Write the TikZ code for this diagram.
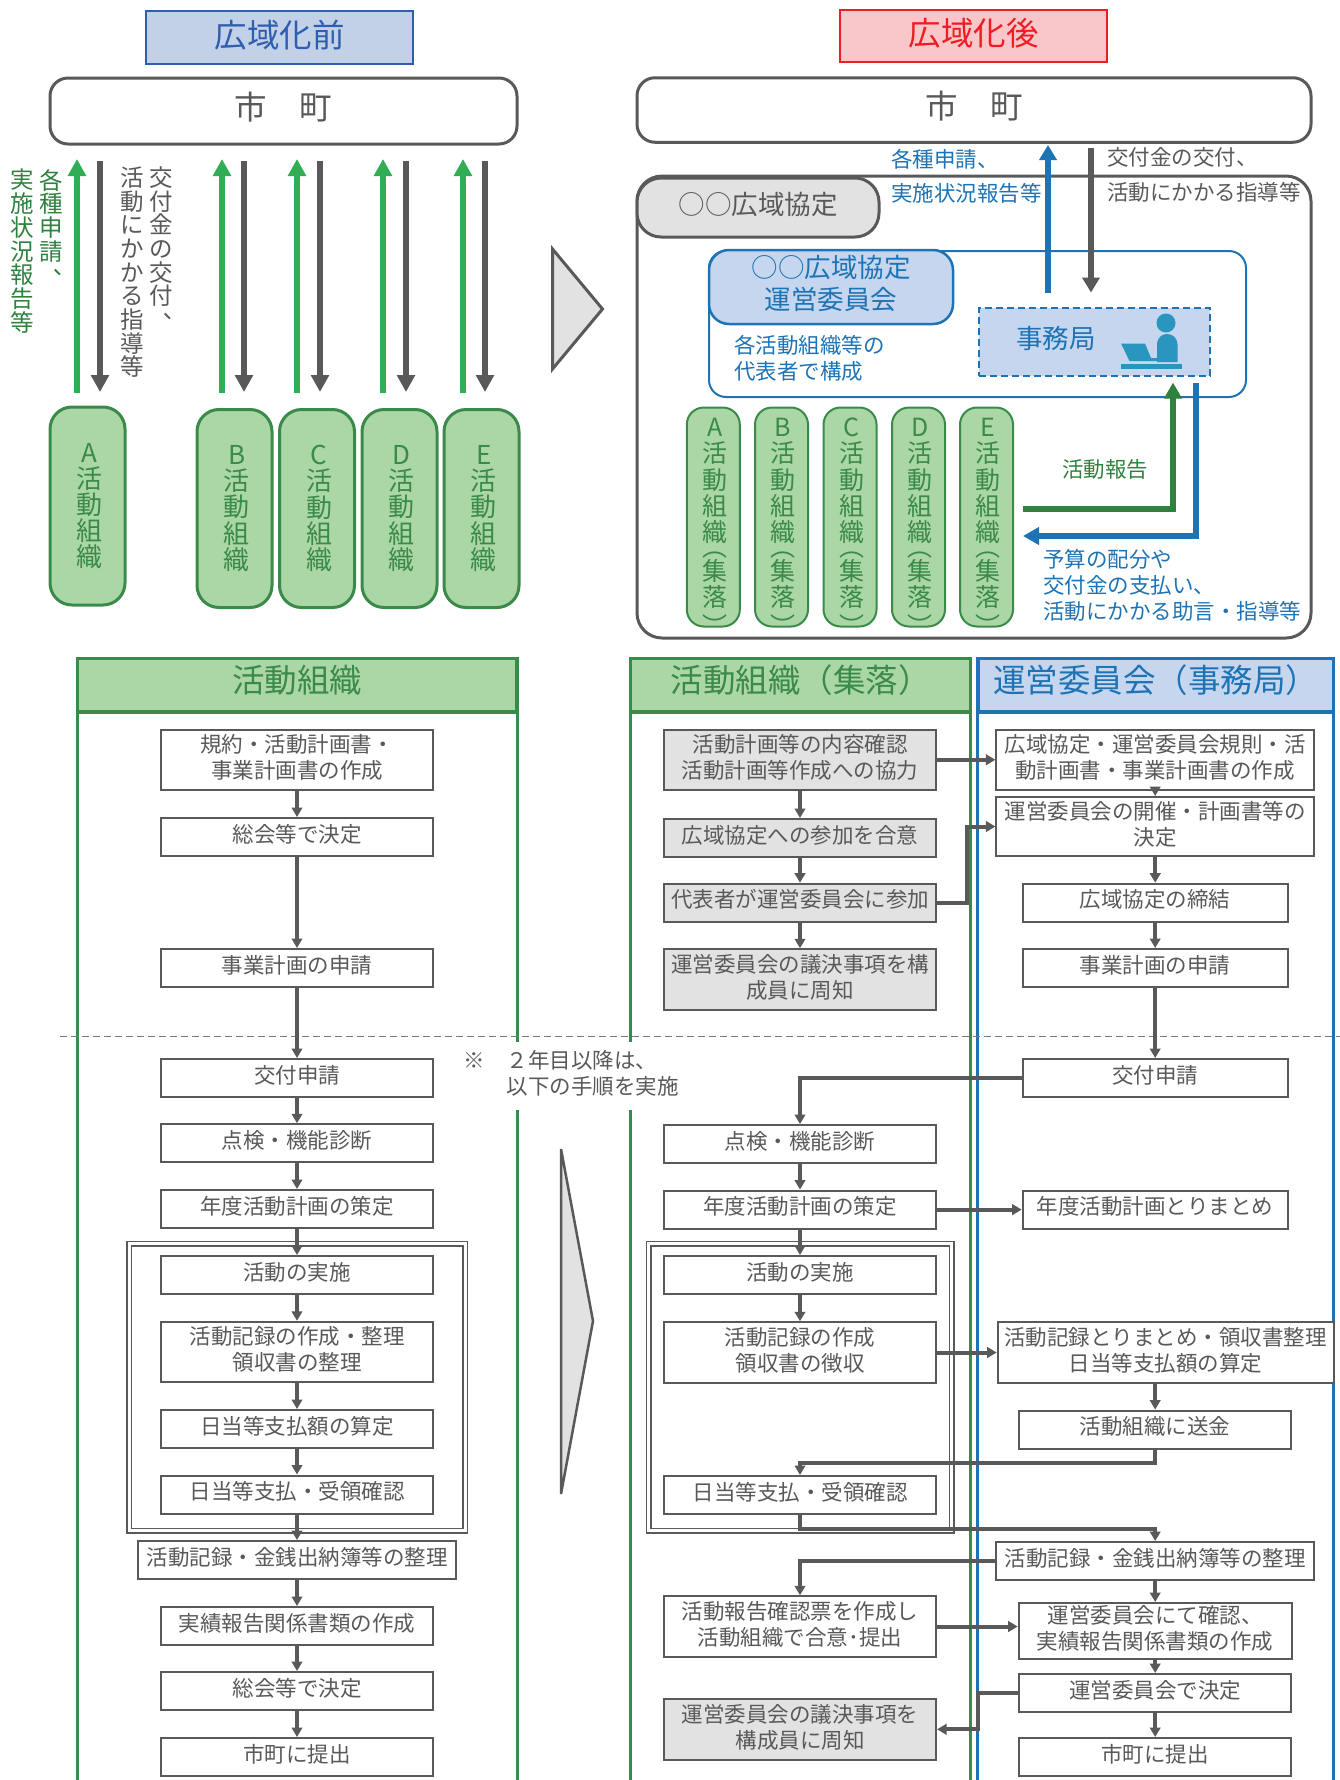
\documentclass[tikz,border=0pt]{standalone}
\usepackage{fontspec}
\setmainfont{Noto Sans CJK JP}
\usetikzlibrary{arrows.meta, shapes}
\definecolor{txtgray}{HTML}{595959}
\definecolor{linegray}{HTML}{595959}
\definecolor{fillgray}{HTML}{E2E2E2}
\definecolor{lanegreen}{HTML}{3A8A4A}
\definecolor{fillgreen}{HTML}{ABD6A6}
\definecolor{arrowgreen}{HTML}{30AD55}
\definecolor{darkgreen}{HTML}{2F8140}
\definecolor{laneblue}{HTML}{1E73B4}
\definecolor{fillblue}{HTML}{C5D6EE}
\definecolor{headblue}{HTML}{C3D1E8}
\definecolor{headred}{HTML}{F9C7CA}
\definecolor{edgeblue}{HTML}{2E5FAF}
\definecolor{edgered}{HTML}{F01C24}
\definecolor{iconteal}{HTML}{2A95BF}
\newcommand{\bodyfont}{\fontsize{21.5pt}{26pt}\selectfont}
\newcommand{\headfont}{\fontsize{32.5pt}{36pt}\selectfont}
\newcommand{\midfont}{\fontsize{26.5pt}{32pt}\selectfont}
\newcommand{\tatecomma}{\rotatebox[origin=c]{180}{、}}
\newcommand{\tateopen}{\raisebox{0pt}[8pt][4pt]{\rotatebox[origin=c]{-90}{（}}}
\newcommand{\tateclose}{\raisebox{0pt}[8pt][4pt]{\rotatebox[origin=c]{-90}{）}}}
\newcommand{\bigstack}[1]{\hskip4.4pt\vbox{\hsize=30pt\centering #1\\活\\動\\組\\織\par}}
\newcommand{\smallstack}[1]{\hskip3pt\raisebox{-118.9pt}[0pt][0pt]{\vbox{\hsize=30pt\centering #1\\活\\動\\組\\織\\[-12pt]\tateopen\\[-2pt]集\\落\\[3pt]\tateclose\par}}}
\tikzstyle{arrow} = [line width=4pt, color=linegray, -{Triangle[length=9.5pt,width=10.5pt]}]
\tikzstyle{bigarrow} = [line width=6pt, -{Triangle[length=17pt,width=17.5pt]}]
\tikzstyle{block} = [draw=linegray, rectangle, line width=2pt, fill=white, text=txtgray, font=\bodyfont, minimum width=272pt, minimum height=38pt, inner sep=0pt, align=center, text height=18pt, text depth=7.6pt]
\tikzstyle{tall} = [block, minimum height=60.5pt, text height=44.4pt, text depth=7pt]
\tikzstyle{greyblock} = [fill=fillgray]
\tikzstyle{doublebox} = [draw=linegray, double, double distance=3pt, line width=1.5pt, rectangle, inner sep=0pt]
\tikzstyle{head} = [rectangle, line width=3.5pt, outer sep=0pt, font=\headfont, inner sep=0pt, text height=26pt, text depth=11.2pt]
\tikzstyle{toplabel} = [head, line width=2pt, text height=26pt, text depth=6.6pt]
\tikzstyle{shicho} = [draw=linegray, rectangle, rounded corners=18pt, line width=3pt, fill=white, text=txtgray, font=\headfont, inner sep=0pt, text height=27pt, text depth=10.6pt]
\tikzstyle{bigorg} = [draw=lanegreen, rectangle, rounded corners=22pt, line width=3pt, fill=fillgreen, text=lanegreen, minimum width=75pt, minimum height=198pt, inner sep=0pt, font={\fontsize{26pt}{26.2pt}\selectfont\lineskiplimit=-20pt}]
\tikzstyle{smallorg} = [draw=lanegreen, rectangle, rounded corners=17pt, line width=2pt, fill=fillgreen, text=lanegreen, minimum width=53pt, minimum height=219pt, inner sep=0pt, font={\fontsize{25pt}{26.3pt}\selectfont\lineskiplimit=-20pt}]
\tikzstyle{tatelabel} = [inner sep=0pt, align=center, anchor=north, font={\fontsize{23.5pt}{23.7pt}\selectfont\lineskiplimit=-20pt}]
\tikzstyle{label} = [inner sep=0pt, font=\bodyfont, anchor=west, align=left, yshift=1pt]
\tikzstyle{lane} = [line width=3pt]
\begin{document}
\begin{tikzpicture}[x=1pt, y=-1pt]
    \useasboundingbox (0,0) rectangle (1340,1780);
    \coordinate (pageFoot) at (0,1780);

    % upper left
    \node [toplabel, draw=edgeblue, fill=headblue, text=edgeblue, minimum width=267pt, minimum height=53pt] (headBefore) at (279.5,37.5) {広域化前};
    \node [shicho, minimum width=467pt, minimum height=66pt] (shichoBefore) at (283.5,111) {市　町};
    \node [bigorg] (orgA) at (87.5,506) {\bigstack{A}};
    \node [bigorg] (orgB) at (234.5,508.5) {\bigstack{B}};
    \node [bigorg] (orgC) at (317,508.5) {\bigstack{C}};
    \node [bigorg] (orgD) at (399.5,508.5) {\bigstack{D}};
    \node [bigorg] (orgE) at (481.5,508.5) {\bigstack{E}};
    \node [tatelabel, text=darkgreen] (labelApply) at (51,169) {各\\種\\申\\請\\[-9pt]\tatecomma};
    \node [tatelabel, text=darkgreen] (labelReport) at (22,169) {実\\施\\状\\況\\報\\告\\等};
    \node [tatelabel, text=txtgray] (labelGrant) at (161,166.5) {交\\付\\金\\の\\交\\付\\[-10pt]\tatecomma};
    \node [tatelabel, text=txtgray] (labelGuide) at (132.5,166.5) {活\\動\\に\\か\\か\\る\\指\\導\\等};

    \coordinate (upAb) at (77,393); \coordinate (upAt) at (77,159);
    \coordinate (upBb) at (222,393); \coordinate (upBt) at (222,159);
    \coordinate (upCb) at (297,393); \coordinate (upCt) at (297,159);
    \coordinate (upDb) at (383,393); \coordinate (upDt) at (383,159);
    \coordinate (upEb) at (463,393); \coordinate (upEt) at (463,159);
    \coordinate (dnAt) at (100,161); \coordinate (dnAb) at (100,392);
    \coordinate (dnBt) at (244,161); \coordinate (dnBb) at (244,392);
    \coordinate (dnCt) at (320,161); \coordinate (dnCb) at (320,392);
    \coordinate (dnDt) at (406,161); \coordinate (dnDb) at (406,392);
    \coordinate (dnEt) at (485,161); \coordinate (dnEb) at (485,392);
    \draw [bigarrow, arrowgreen] (upAb) -- (upAt);
    \draw [bigarrow, arrowgreen] (upBb) -- (upBt);
    \draw [bigarrow, arrowgreen] (upCb) -- (upCt);
    \draw [bigarrow, arrowgreen] (upDb) -- (upDt);
    \draw [bigarrow, arrowgreen] (upEb) -- (upEt);
    \draw [bigarrow, linegray] (dnAt) -- (dnAb);
    \draw [bigarrow, linegray] (dnBt) -- (dnBb);
    \draw [bigarrow, linegray] (dnCt) -- (dnCb);
    \draw [bigarrow, linegray] (dnDt) -- (dnDb);
    \draw [bigarrow, linegray] (dnEt) -- (dnEb);
    \draw [draw=linegray, line width=3pt, fill=fillgray] (552.5,249) -- (602.5,309) -- (552.5,369) -- cycle;

    % upper right
    \node [toplabel, draw=edgered, fill=headred, text=edgered, minimum width=267pt, minimum height=52pt] (headAfter) at (973.5,36) {広域化後};
    \node [shicho, minimum width=674pt, minimum height=64.5pt] (shichoAfter) at (974,110) {市　町};
    \node [draw=linegray, rectangle, rounded corners=25pt, line width=3pt, minimum width=674pt, minimum height=462pt, inner sep=0pt] (kyotei) at (974,407) {};
    \node [draw=linegray, rectangle, rounded corners=24pt, line width=3pt, fill=fillgray, text=txtgray, font=\midfont, minimum width=242pt, minimum height=59pt, inner sep=0pt, text height=22pt, text depth=9pt] (kyoteiTab) at (758,207.5) {○○広域協定};
    \node [draw=laneblue, rectangle, rounded corners=17pt, line width=2pt, minimum width=537pt, minimum height=146pt, inner sep=0pt] (iinkaiFrame) at (977.5,324) {};
    \node [draw=laneblue, rectangle, rounded corners=20pt, line width=2.5pt, fill=fillblue, text=laneblue, font=\midfont, minimum width=244pt, minimum height=74pt, inner sep=0pt, align=center, text height=50pt, text depth=6pt] (iinkai) at (831,287) {○○広域協定\\運営委員会};
    \node [draw=laneblue, dash pattern=on 7pt off 4pt, rectangle, line width=2pt, fill=fillblue, minimum width=231pt, minimum height=68pt, inner sep=0pt] (jimu) at (1094.5,342) {};
    \node [inner sep=0pt, text=laneblue, font=\midfont] (jimuText) at (1056,338) {事務局};
    \node [smallorg] (sOrgA) at (713.3,517) {\smallstack{A}};
    \node [smallorg] (sOrgB) at (781.5,517) {\smallstack{B}};
    \node [smallorg] (sOrgC) at (850,517) {\smallstack{C}};
    \node [smallorg] (sOrgD) at (918.5,517) {\smallstack{D}};
    \node [smallorg] (sOrgE) at (986.5,517) {\smallstack{E}};
    \node [label, text=laneblue] (lbApply) at (891,160) {各種申請、};
    \node [label, text=laneblue] (lbStatus) at (891,194) {実施状況報告等};
    \node [label, text=txtgray] (lbGrant) at (1107,158) {交付金の交付、};
    \node [label, text=txtgray] (lbGuide) at (1107,193) {活動にかかる指導等};
    \node [label, text=laneblue] (lbMember) at (734,346) {各活動組織等の};
    \node [label, text=laneblue] (lbRep) at (734,372) {代表者で構成};
    \node [label, text=darkgreen] (lbActivity) at (1062,470) {活動報告};
    \node [label, text=laneblue] (lbBudget) at (1043,560) {予算の配分や};
    \node [label, text=laneblue] (lbPay) at (1043,586) {交付金の支払い、};
    \node [label, text=laneblue] (lbAdvice) at (1043,612) {活動にかかる助言・指導等};

    % desk worker
    \fill [iconteal] (1166,323) circle (9.5);
    \fill [iconteal] (1157,362) -- (1157,344) .. controls (1158,336) and (1163,334) .. (1167,334) .. controls (1173,334) and (1177,338) .. (1177.5,344) -- (1177.5,362) -- cycle;
    \fill [iconteal] (1121,343.5) -- (1145,343.5) -- (1151,358) -- (1162,358) -- (1162,361) -- (1129.5,361) -- cycle;
    \fill [iconteal] (1121,364) rectangle (1182,369);

    \coordinate (upJimu) at (1048,292.5); \coordinate (upShicho) at (1048,145);
    \coordinate (dnShicho) at (1091,148); \coordinate (dnJimu) at (1091,292.5);
    \coordinate (repStart) at (1023,509); \coordinate (repEnd) at (1173,382.5);
    \coordinate (payStart) at (1196,382.5); \coordinate (payEnd) at (1023,536);
    \draw [bigarrow, laneblue, -{Triangle[length=15pt,width=17pt]}] (upJimu) -- (upShicho);
    \draw [bigarrow, linegray, -{Triangle[length=15pt,width=17pt]}] (dnShicho) -- (dnJimu);
    \draw [bigarrow, darkgreen, -{Triangle[length=16pt,width=17pt]}] (repStart) -| (repEnd);
    \draw [bigarrow, laneblue, -{Triangle[length=16pt,width=17pt]}] (payStart) |- (payEnd);

    % lanes
    \node [head, draw=lanegreen, fill=fillgreen, text=lanegreen, minimum width=439.5pt, minimum height=53.5pt] (laneLeft) at (297.3,685) {活動組織};
    \node [head, draw=lanegreen, fill=fillgreen, text=lanegreen, minimum width=340pt, minimum height=53.5pt] (laneMid) at (800.5,685) {活動組織（集落）};
    \node [head, draw=laneblue, fill=fillblue, text=laneblue, minimum width=355.5pt, minimum height=53.5pt] (laneRight) at (1155.5,685) {運営委員会（事務局）};
    \draw [lane, lanegreen] (laneLeft.south west) -- (laneLeft.south west |- pageFoot);
    \draw [lane, lanegreen] (laneLeft.south east) -- (laneLeft.south east |- pageFoot);
    \draw [lane, lanegreen] (laneMid.south west) -- (laneMid.south west |- pageFoot);
    \draw [lane, lanegreen] (laneMid.south east) -- (laneMid.south east |- pageFoot);
    \draw [lane, laneblue] (laneRight.south west) -- (laneRight.south west |- pageFoot);
    \draw [lane, laneblue] (laneRight.south east) -- (laneRight.south east |- pageFoot);
    \coordinate (yearLineL) at (60,1036); \coordinate (yearLineR) at (1340,1036);
    \draw [linegray!80, line width=1pt, dash pattern=on 7pt off 4pt] (yearLineL) -- (yearLineR);
    \node [fill=white, inner sep=0pt, minimum width=218pt, minimum height=68pt, align=left, text=txtgray, font=\bodyfont, anchor=north west, text height=44.4pt, text depth=7pt] (noteYear) at (462,1042) {※　２年目以降は、\\　　以下の手順を実施};
    \draw [draw=linegray, line width=2.5pt, fill=fillgray] (561,1149) -- (593,1321) -- (561,1494) -- cycle;
    \node [doublebox, minimum width=336pt, minimum height=287pt] (loopLeft) at (297,1387) {};
    \node [doublebox, minimum width=303pt, minimum height=287pt] (loopMid) at (800,1387) {};

    % left lane
    \node [tall] (kiyakuL) at (297,759.75) {規約・活動計画書・\\事業計画書の作成};
    \node [block, below of=kiyakuL, node distance=77.25pt] (soukaiL) {総会等で決定};
    \node [block, below of=soukaiL, node distance=131pt] (jigyoL) {事業計画の申請};
    \node [block, below of=jigyoL, node distance=110pt] (kofuL) {交付申請};
    \node [block, below of=kofuL, node distance=65.25pt] (tenkenL) {点検・機能診断};
    \node [block, below of=tenkenL, node distance=65.75pt] (nendoL) {年度活動計画の策定};
    \node [block, below of=nendoL, node distance=66pt] (jisshiL) {活動の実施};
    \node [tall, below of=jisshiL, node distance=77pt] (kirokuL) {活動記録の作成・整理\\領収書の整理};
    \node [block, below of=kirokuL, node distance=77pt] (santeiL) {日当等支払額の算定};
    \node [block, below of=santeiL, node distance=65.5pt] (kakuninL) {日当等支払・受領確認};
    \node [block, below of=kakuninL, node distance=65.5pt, minimum width=318pt] (seiriL) {活動記録・金銭出納簿等の整理};
    \node [block, below of=seiriL, node distance=66pt] (jissekiL) {実績報告関係書類の作成};
    \node [block, below of=jissekiL, node distance=65pt] (soukai2L) {総会等で決定};
    \node [block, below of=soukai2L, node distance=66pt] (teishutsuL) {市町に提出};

    % middle lane
    \node [tall, greyblock] (keikakuM) at (800,759.75) {活動計画等の内容確認\\活動計画等作成への協力};
    \node [block, greyblock, below of=keikakuM, node distance=78.25pt] (sankaM) {広域協定への参加を合意};
    \node [block, greyblock, below of=sankaM, node distance=64.7pt] (daihyoM) {代表者が運営委員会に参加};
    \node [tall, greyblock, below of=daihyoM, node distance=76.8pt] (shuchiM) {運営委員会の議決事項を構\\成員に周知};
    \node [block, below of=shuchiM, node distance=164.5pt] (tenkenM) {点検・機能診断};
    \node [block, below of=tenkenM, node distance=65.6pt] (nendoM) {年度活動計画の策定};
    \node [block, below of=nendoM, node distance=65.4pt] (jisshiM) {活動の実施};
    \node [tall, below of=jisshiM, node distance=77.5pt] (kirokuM) {活動記録の作成\\領収書の徴収};
    \node [block, below of=kirokuM, node distance=142.5pt] (kakuninM) {日当等支払・受領確認};
    \node [tall, below of=kakuninM, node distance=131.5pt] (hokokuM) {活動報告確認票を作成し\\活動組織で合意･提出};
    \node [tall, greyblock, below of=hokokuM, node distance=102.8pt] (shuchi2M) {運営委員会の議決事項を\\構成員に周知};

    % right lane
    \node [tall, right of=keikakuM, node distance=355.2pt, minimum width=317.5pt] (kisokuR) {広域協定・運営委員会規則・活\\動計画書・事業計画書の作成};
    \node [tall, below of=kisokuR, node distance=66.75pt, minimum width=317.5pt, minimum height=59pt] (kaisaiR) {運営委員会の開催・計画書等の\\決定};
    \node [block, below of=kaisaiR, node distance=76.2pt, minimum width=265pt] (teiketsuR) {広域協定の締結};
    \node [block, below of=teiketsuR, node distance=65.3pt, minimum width=265pt] (jigyoR) {事業計画の申請};
    \node [block, below of=jigyoR, node distance=110pt, minimum width=265pt] (kofuR) {交付申請};
    \node [block, below of=kofuR, node distance=131.6pt, minimum width=265pt] (matomeR) {年度活動計画とりまとめ};
    \node [tall, minimum width=336pt] (torimatomeR) at (1165.7,1352.5) {活動記録とりまとめ・領収書整理\\日当等支払額の算定};
    \node [block, below of=matomeR, node distance=220pt] (sokinR) {活動組織に送金};
    \node [block, below of=sokinR, node distance=131.4pt, minimum width=317.5pt] (seiriR) {活動記録・金銭出納簿等の整理};
    \node [tall, below of=seiriR, node distance=70pt, minimum height=56pt, minimum width=273pt] (kakuninR) {運営委員会にて確認、\\実績報告関係書類の作成};
    \node [block, below of=kakuninR, node distance=62pt] (ketteiR) {運営委員会で決定};
    \node [block, below of=ketteiR, node distance=64pt] (teishutsuR) {市町に提出};

    \path [arrow] (kiyakuL) edge (soukaiL);
    \path [arrow] (soukaiL) edge (jigyoL);
    \path [arrow] (jigyoL) edge (kofuL);
    \path [arrow] (kofuL) edge (tenkenL);
    \path [arrow] (tenkenL) edge (nendoL);
    \path [arrow] (nendoL) edge (jisshiL);
    \path [arrow] (jisshiL) edge (kirokuL);
    \path [arrow] (kirokuL) edge (santeiL);
    \path [arrow] (santeiL) edge (kakuninL);
    \path [arrow] (kakuninL) edge (seiriL);
    \path [arrow] (seiriL) edge (jissekiL);
    \path [arrow] (jissekiL) edge (soukai2L);
    \path [arrow] (soukai2L) edge (teishutsuL);

    \path [arrow] (keikakuM) edge (sankaM);
    \path [arrow] (sankaM) edge (daihyoM);
    \path [arrow] (daihyoM) edge (shuchiM);
    \path [arrow] (tenkenM) edge (nendoM);
    \path [arrow] (nendoM) edge (jisshiM);
    \path [arrow] (jisshiM) edge (kirokuM);

    \path [arrow] (kisokuR) edge (kaisaiR);
    \path [arrow] (kaisaiR) edge (teiketsuR);
    \path [arrow] (teiketsuR) edge (jigyoR);
    \path [arrow] (jigyoR) edge (kofuR);
    \path [arrow] (seiriR) edge (kakuninR);
    \path [arrow] (kakuninR) edge (ketteiR);
    \path [arrow] (ketteiR) edge (teishutsuR);

    \path [arrow] (keikakuM) edge (kisokuR);
    \path [arrow] (nendoM) edge (matomeR);
    \path [arrow] (kirokuM) edge (torimatomeR);
    \draw [arrow] (hokokuM.east) -- (hokokuM.east -| kakuninR.west);
    \draw [arrow] (sokinR.north |- torimatomeR.south) -- (sokinR.north);

    \coordinate (daihyoBend) at (966.6,902.7);
    \draw [arrow] (daihyoM.east) -- (daihyoBend) |- (kaisaiR.west);
    \draw [arrow] (kofuR.west) -| (tenkenM.north);
    \coordinate (sokinBend) at (1155.2,1463);
    \draw [arrow] (sokinR.south) -- (sokinBend) -| (kakuninM.north);
    \coordinate (kakuninBend) at (800,1529);
    \draw [arrow] (kakuninM.south) -- (kakuninBend) -| (seiriR.north);
    \draw [arrow] (seiriR.west) -| (hokokuM.north);
    \coordinate (ketteiBend) at (978,1729.3);
    \draw [arrow] (ketteiR.west) -| (ketteiBend) -- (shuchi2M.east);
\end{tikzpicture}
\end{document}
